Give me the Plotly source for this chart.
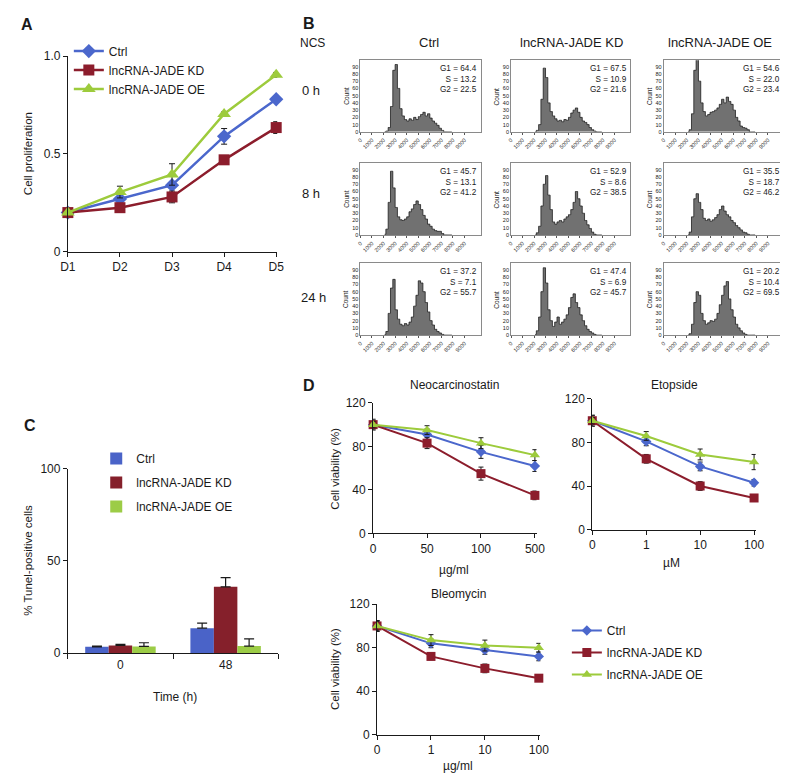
import plotly.graph_objects as go

W, H = 788, 776
FONT = "Liberation Sans, Arial, sans-serif"
INK = "#1a1a1a"
BLUE = "#4b67cc"
RED = "#8c1d2c"
GREEN = "#9dcb3c"

# ---------------- Panel A: cell proliferation ----------------
days = ["D1", "D2", "D3", "D4", "D5"]
prolif_ctrl = [0.20, 0.27, 0.34, 0.59, 0.78]
prolif_ctrl_err = [0.005, 0.012, 0.015, 0.04, 0.012]
prolif_kd = [0.20, 0.225, 0.28, 0.47, 0.635]
prolif_kd_err = [0.01, 0.02, 0.03, 0.015, 0.03]
prolif_oe = [0.20, 0.305, 0.395, 0.705, 0.905]
prolif_oe_err = [0.005, 0.03, 0.055, 0.01, 0.012]

# ---------------- Panel B: cell-cycle histograms ----------------
ncs_times = ["0 h", "8 h", "24 h"]
groups = ["Ctrl", "lncRNA-JADE KD", "lncRNA-JADE OE"]
dna_bins = [2100, 2300, 2500, 2700, 2900, 3100, 3300, 3500, 3700, 3900,
            4100, 4300, 4500, 4700, 4900, 5100, 5300, 5500, 5700, 5900,
            6100, 6300, 6500, 6700, 6900, 7100, 7300, 7500, 7700, 7900]
hist_ctrl_0h = [0, 1, 6, 35, 85, 93, 60, 32, 22, 17, 15, 18, 16, 20, 17, 21, 24, 27, 22, 25, 19, 15, 12, 9, 5, 2, 0, 0, 0, 0]
hist_kd_0h = [0, 2, 10, 45, 88, 75, 40, 28, 22, 18, 15, 16, 14, 17, 16, 20, 26, 30, 33, 27, 20, 15, 13, 10, 6, 3, 1, 0, 0, 0]
hist_oe_0h = [0, 3, 25, 85, 100, 70, 40, 28, 22, 24, 27, 28, 30, 33, 38, 45, 40, 48, 42, 38, 30, 20, 15, 8, 6, 5, 3, 0, 0, 0]
hist_ctrl_8h = [1, 8, 45, 88, 65, 38, 25, 21, 20, 22, 25, 32, 36, 42, 47, 42, 35, 27, 22, 15, 12, 8, 6, 5, 5, 2, 0, 0, 0, 0]
hist_kd_8h = [0, 3, 12, 40, 70, 82, 55, 35, 18, 15, 18, 20, 18, 22, 25, 28, 35, 45, 60, 50, 40, 30, 20, 14, 9, 4, 1, 0, 0, 0]
hist_oe_8h = [0, 4, 25, 50, 57, 45, 35, 23, 20, 22, 19, 21, 24, 28, 35, 40, 33, 28, 25, 20, 17, 13, 10, 7, 4, 3, 1, 0, 0, 0]
hist_ctrl_24h = [1, 5, 30, 65, 77, 35, 22, 15, 13, 16, 14, 18, 25, 40, 55, 75, 72, 60, 45, 32, 20, 14, 8, 5, 3, 1, 0, 0, 0, 0]
hist_kd_24h = [1, 6, 25, 60, 93, 72, 35, 20, 12, 18, 25, 15, 18, 22, 28, 38, 52, 57, 45, 38, 28, 20, 13, 8, 5, 3, 1, 0, 0, 0]
hist_oe_24h = [0, 2, 15, 45, 60, 55, 30, 20, 15, 17, 20, 19, 22, 30, 42, 55, 68, 74, 50, 35, 25, 15, 10, 6, 3, 1, 0, 0, 0, 0]
phase_ctrl_0h = ["64.4", "13.2", "22.5"]
phase_kd_0h = ["67.5", "10.9", "21.6"]
phase_oe_0h = ["54.6", "22.0", "23.4"]
phase_ctrl_8h = ["45.7", "13.1", "41.2"]
phase_kd_8h = ["52.9", "8.6", "38.5"]
phase_oe_8h = ["35.5", "18.7", "46.2"]
phase_ctrl_24h = ["37.2", "7.1", "55.7"]
phase_kd_24h = ["47.4", "6.9", "45.7"]
phase_oe_24h = ["20.2", "10.4", "69.5"]
hist_ticks = [0, 1000, 2000, 3000, 4000, 5000, 6000, 7000, 8000, 9000]
count_ticks = [0, 10, 20, 30, 40, 50, 60, 70, 80, 90]

# ---------------- Panel C: TUNEL ----------------
tunel_times = ["0", "48"]
tunel_ctrl = [3.5, 13.6]
tunel_ctrl_err = [0.4, 2.7]
tunel_kd = [4.2, 36.0]
tunel_kd_err = [0.6, 5.0]
tunel_oe = [3.7, 3.9]
tunel_oe_err = [2.0, 3.9]

# ---------------- Panel D: drug viability ----------------
neo_doses = ["0", "50", "100", "500"]
neo_ctrl = [100, 91, 75, 62]
neo_ctrl_err = [5, 5, 6, 5]
neo_kd = [100, 83, 55, 35]
neo_kd_err = [4, 5, 6, 4]
neo_oe = [100, 95, 83, 72]
neo_oe_err = [3, 4, 5, 5]
eto_doses = ["0", "1", "10", "100"]
eto_ctrl = [100, 81, 58, 43]
eto_ctrl_err = [5, 4, 4, 3]
eto_kd = [100, 65, 40, 29]
eto_kd_err = [5, 4, 4, 2]
eto_oe = [100, 86, 69, 62]
eto_oe_err = [3, 4, 5, 7]
bleo_doses = ["0", "1", "10", "100"]
bleo_ctrl = [100, 84, 78, 72]
bleo_ctrl_err = [5, 4, 4, 4]
bleo_kd = [100, 72, 61, 52]
bleo_kd_err = [5, 3, 4, 3]
bleo_oe = [100, 87, 82, 80]
bleo_oe_err = [4, 5, 5, 4]


def xdom(a, b):
    return [a / W, b / W]


def ydom(top, bottom):
    return [1 - bottom / H, 1 - top / H]


def px(x):
    return x / W


def py(y):
    return 1 - y / H


annotations = []


def ann(text, x, y, size=12, xanchor="center", yanchor="middle", angle=0, align="center"):
    annotations.append(dict(text=text, x=px(x), y=py(y), xref="paper", yref="paper",
                            showarrow=False, xanchor=xanchor, yanchor=yanchor,
                            textangle=angle, align=align, borderpad=0,
                            font=dict(size=size, family=FONT, color=INK)))


fig = go.Figure()
axes = {}
base = dict(showgrid=False, zeroline=False, showline=True, linecolor=INK, linewidth=1,
            ticks="outside", tickcolor=INK, ticklen=4,
            tickfont=dict(size=12, family=FONT, color=INK))

# ---- Panel A ----
axes["xaxis"] = dict(base, domain=xdom(53, 267), type="category", range=[0, 4.02], anchor="y")
axes["yaxis"] = dict(base, domain=ydom(42, 241), range=[0, 1], tickvals=[0, 0.5, 1],
                     ticktext=["0", "0.5", "1.0"], anchor="x")
for name, y, err, col, sym, size in [
        ("Ctrl", prolif_ctrl, prolif_ctrl_err, BLUE, "diamond", 11),
        ("lncRNA-JADE KD", prolif_kd, prolif_kd_err, RED, "square", 11),
        ("lncRNA-JADE OE", prolif_oe, prolif_oe_err, GREEN, "triangle-up", 12)]:
    fig.add_trace(go.Scatter(x=days, y=y, mode="lines+markers", name=name,
                             line=dict(color=col, width=2.5),
                             marker=dict(symbol=sym, size=size, color=col),
                             error_y=dict(type="data", array=err, color=INK, thickness=1, width=3),
                             xaxis="x", yaxis="y", legend="legend", cliponaxis=False))
ann("Cell proliferation", 13, 141, 11.5, angle=-90)
ann("<b>A</b>", 11, 10, 16)

# ---- Panel B ----
cols_px = [(352, 475), (506, 628), (662, 785)]
rows_px = [(46, 119), (151, 224), (253, 326)]
hists = [[hist_ctrl_0h, hist_kd_0h, hist_oe_0h],
         [hist_ctrl_8h, hist_kd_8h, hist_oe_8h],
         [hist_ctrl_24h, hist_kd_24h, hist_oe_24h]]
phases = [[phase_ctrl_0h, phase_kd_0h, phase_oe_0h],
          [phase_ctrl_8h, phase_kd_8h, phase_oe_8h],
          [phase_ctrl_24h, phase_kd_24h, phase_oe_24h]]
small = dict(size=5.5, family=FONT, color=INK)
k = 2
for r in range(3):
    for c in range(3):
        xl, xr = cols_px[c]
        yt, yb = rows_px[r]
        axes[f"xaxis{k}"] = dict(domain=xdom(xl, xr), range=[0, 10400], tickvals=hist_ticks,
                                 tickangle=-45, tickfont=small, ticks="outside", ticklen=2,
                                 tickcolor="#555", showline=True, mirror=True, linecolor="#8a8a8a",
                                 linewidth=1, showgrid=False, zeroline=False, anchor=f"y{k}")
        axes[f"yaxis{k}"] = dict(domain=ydom(yt, yb), range=[0, 99], tickvals=count_ticks,
                                 tickfont=small, ticks="",
                                 showline=True, mirror=True, linecolor="#8a8a8a", linewidth=1,
                                 showgrid=False, zeroline=False, anchor=f"x{k}")
        fig.add_trace(go.Scatter(x=dna_bins, y=hists[r][c], mode="lines", line_shape="hvh",
                                 fill="tozeroy", fillcolor="#717171",
                                 line=dict(color="#1e1e1e", width=0.8), showlegend=False,
                                 xaxis=f"x{k}", yaxis=f"y{k}", hoverinfo="skip"))
        g1, s, g2 = phases[r][c]
        ann(f"G1 = {g1}<br>S = {s}<br>G2 = {g2}", xr - 3, yt + 3, 8.2,
            xanchor="right", yanchor="top", align="right")
        ann("Count", xl - 15, (yt + yb) / 2, 6.5, angle=-90)
        k += 1
ann("<b>B</b>", 299, 9, 16)
ann("NCS", 303, 29, 12)
for text, x in zip(groups, [422, 568, 720]):
    ann(text, x, 28, 13)
for text, y, x in zip(ncs_times, [77, 182, 288], [301, 301, 304]):
    ann(text, x, y, 13)

# ---- Panel C ----
axes["xaxis11"] = dict(base, domain=xdom(53, 268), type="category", range=[-0.5, 1.5],
                       tickson="boundaries", ticklen=5, anchor="y11")
axes["yaxis11"] = dict(base, domain=ydom(462, 650), range=[0, 100], tickvals=[0, 50, 100],
                       anchor="x11")
for name, y, err, col in [("Ctrl", tunel_ctrl, tunel_ctrl_err, "#4a63c8"),
                          ("lncRNA-JADE KD", tunel_kd, tunel_kd_err, "#85202b"),
                          ("lncRNA-JADE OE", tunel_oe, tunel_oe_err, "#9ccc46")]:
    fig.add_trace(go.Bar(x=tunel_times, y=y, name=name, marker=dict(color=col, line=dict(width=0)),
                         error_y=dict(type="data", array=err, arrayminus=[0] * len(err),
                                      symmetric=False, color=INK, thickness=1.2, width=5),
                         xaxis="x11", yaxis="y11", legend="legend2", legendgroup="c" + name))
ann("% Tunel-positive cells", 12, 555, 11.5, angle=-90)
ann("Time (h)", 163, 695, 12)
ann("<b>C</b>", 14, 418, 16)

# ---- Panel D ----
dpanels = [
    ("12", (365, 532), (395, 528), neo_doses,
     [(neo_ctrl, neo_ctrl_err), (neo_kd, neo_kd_err), (neo_oe, neo_oe_err)], True),
    ("13", (589, 756), (391, 524), eto_doses,
     [(eto_ctrl, eto_ctrl_err), (eto_kd, eto_kd_err), (eto_oe, eto_oe_err)], False),
    ("14", (369, 536), (600, 733), bleo_doses,
     [(bleo_ctrl, bleo_ctrl_err), (bleo_kd, bleo_kd_err), (bleo_oe, bleo_oe_err)], False),
]
styles = [("Ctrl", BLUE, "diamond", 8), ("lncRNA-JADE KD", RED, "square", 9),
          ("lncRNA-JADE OE", GREEN, "triangle-up", 9)]
for pid, xr_, yr_, doses, series, show in dpanels:
    axes[f"xaxis{pid}"] = dict(base, domain=xdom(*xr_), type="category", range=[0, 3.03],
                               anchor=f"y{pid}")
    axes[f"yaxis{pid}"] = dict(base, domain=ydom(*yr_), range=[0, 120],
                               tickvals=[0, 40, 80, 120], anchor=f"x{pid}")
    for (vals, err), (name, col, sym, size) in zip(series, styles):
        fig.add_trace(go.Scatter(x=doses, y=vals, mode="lines+markers", name=name,
                                 line=dict(color=col, width=2),
                                 marker=dict(symbol=sym, size=size, color=col),
                                 error_y=dict(type="data", array=err, color=INK, thickness=1, width=2.5),
                                 xaxis=f"x{pid}", yaxis=f"y{pid}", legend="legend3",
                                 legendgroup="d" + name, showlegend=show, cliponaxis=False))
ann("<b>D</b>", 299, 377, 16)
ann("Neocarcinostatin", 448, 377, 12)
ann("Etopside", 673, 377, 12)
ann("Bleomycin", 452, 590, 12)
ann("µg/ml", 448, 565, 12)
ann("µM", 670, 558, 12)
ann("µg/ml", 452, 765, 12)
ann("Cell viability (%)", 326, 462, 11.5, angle=-90)
ann("Cell viability (%)", 326, 666, 11.5, angle=-90)

legend_font = dict(size=12, family=FONT, color=INK)
fig.update_layout(
    width=W, height=H, margin=dict(l=0, r=0, t=0, b=0),
    paper_bgcolor="white", plot_bgcolor="white",
    font=dict(family=FONT, color=INK),
    barmode="group", bargap=0.33, bargroupgap=0,
    annotations=annotations,
    legend=dict(x=px(54), y=py(22), xanchor="left", yanchor="top", font=legend_font,
                bgcolor="rgba(0,0,0,0)", tracegroupgap=0),
    legend2=dict(x=px(82), y=py(437), xanchor="left", yanchor="top", font=legend_font,
                 bgcolor="rgba(0,0,0,0)", tracegroupgap=5),
    legend3=dict(x=px(563), y=py(612), xanchor="left", yanchor="top", font=legend_font,
                 bgcolor="rgba(0,0,0,0)", tracegroupgap=3),
    **axes,
)
fig.write_html("out.html")
